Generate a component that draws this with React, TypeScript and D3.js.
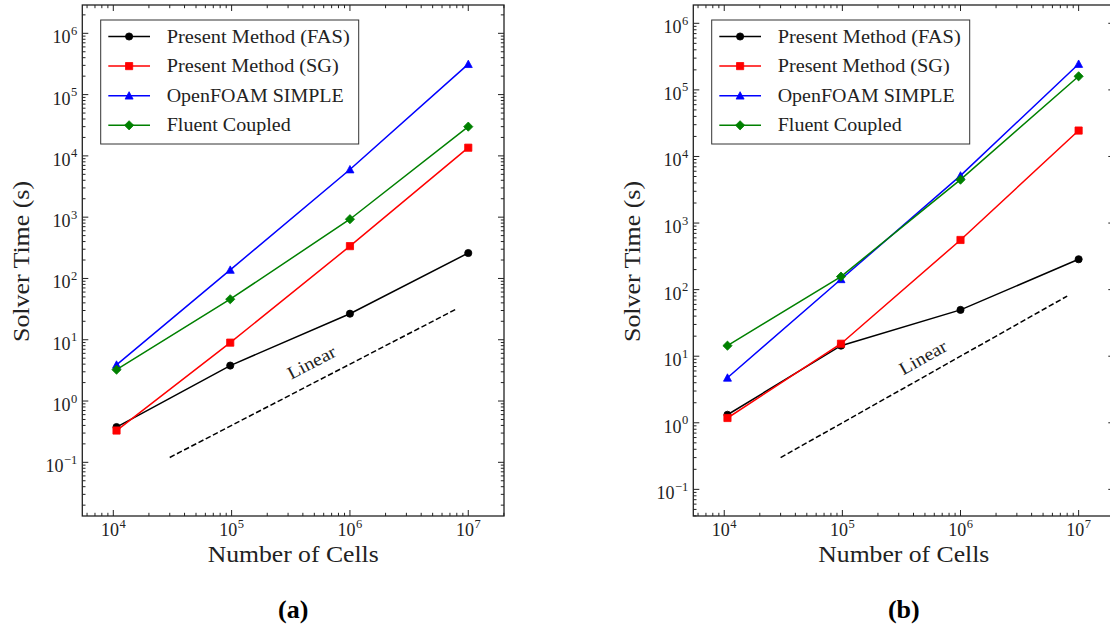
import React from 'react';
import * as d3 from 'd3';

// ---------- data ----------
const cells = [10648, 97336, 1000000, 10000000];
const legendLabels = ['Present Method (FAS)', 'Present Method (SG)', 'OpenFOAM SIMPLE', 'Fluent Coupled'];
const legendTextWidths = [183, 172, 177, 124];
const seriesColors = ['#000000', '#ff0000', '#0000ff', '#008000'];
const seriesMarkers = ['circle', 'square', 'triangle', 'diamond'];

const fasA = [0.376, 3.79, 26.6, 260];
const sgA = [0.33, 8.97, 337, 13600];
const openfoamA = [3.9, 138, 6000, 314000];
const fluentA = [3.25, 45.8, 926, 30000];

const fasB = [1.32, 14.4, 49.6, 286];
const sgB = [1.18, 15.4, 557, 24500];
const openfoamB = [4.74, 143, 5150, 245000];
const fluentB = [14.4, 157, 4480, 160000];

const linearX = [3e4, 8e6];
const linearCoefA = 4e-6;
const linearCoefB = 1e-5;
const linearLabelA = [5.0e5, 3.5];
const linearLabelB = [5.1e5, 8.0];

const xTickExps = [4, 5, 6, 7];
const yTickExps = [-1, 0, 1, 2, 3, 4, 5, 6];

const xLabel = 'Number of Cells';
const yLabel = 'Solver Time (s)';

// ---------- helpers ----------
const TXT = '#222';
const FONT = "'Liberation Serif', 'DejaVu Serif', serif";

function markerPath(kind: string): string {
  if (kind === 'circle') {
    const r = 3.6;
    return `M${-r},0A${r},${r} 0 1,0 ${r},0A${r},${r} 0 1,0 ${-r},0Z`;
  }
  if (kind === 'square') {
    const h = 3.6;
    return `M${-h},${-h}H${h}V${h}H${-h}Z`;
  }
  if (kind === 'triangle') {
    const h = 4;
    return `M0,${-h}L${h},${h * 0.85}L${-h},${h * 0.85}Z`;
  }
  const d = 4.6;
  return `M0,${-d}L${d},0L0,${d}L${-d},0Z`;
}

function minorValues(lo: number, hi: number): number[] {
  const out: number[] = [];
  for (let e = Math.floor(Math.log10(lo)) - 1; e <= Math.ceil(Math.log10(hi)); e++) {
    for (let k = 2; k <= 9; k++) {
      const v = k * Math.pow(10, e);
      if (v > lo && v < hi) out.push(v);
    }
  }
  return out;
}

function Pow10({ x, y, exp, anchor }: { x: number; y: number; exp: number; anchor: string }) {
  const e = exp < 0 ? '\u2212' + Math.abs(exp) : String(exp);
  return (
    <text x={x} y={y} textAnchor={anchor} fontFamily={FONT} fontSize={18} fill={TXT}>
      <tspan>10</tspan>
      <tspan dy={-8.5} fontSize={12.5} dx={0.5}>{e}</tspan>
    </text>
  );
}

type PanelProps = {
  left: number;
  right: number;
  top: number;
  bottom: number;
  yDomain: [number, number];
  series: number[][];
  linearCoef: number;
  labelPos: number[];
  caption: string;
};

function Panel({ left, right, top, bottom, yDomain, series, linearCoef, labelPos, caption }: PanelProps) {
  const x = d3.scaleLog().domain([Math.pow(10, 3.738), Math.pow(10, 7.302)]).range([left, right]);
  const y = d3.scaleLog().domain(yDomain).range([bottom, top]);
  const [xlo, xhi] = x.domain();
  const [ylo, yhi] = y.domain();
  const majLen = 6;
  const minLen = 3.2;

  const line = d3
    .line<number>()
    .x((_, i) => x(cells[i]))
    .y((d) => y(d));

  const linPts: [number, number][] = linearX.map((v) => [x(v), y(v * linearCoef)]);
  const angle = (Math.atan2(linPts[1][1] - linPts[0][1], linPts[1][0] - linPts[0][0]) * 180) / Math.PI;
  const lx = x(labelPos[0]);
  const ly = y(labelPos[1]);

  const legX = left + 18.4;
  const legY = 20;
  const cx = (left + right) / 2;

  return (
    <g>
      {/* ticks */}
      {xTickExps.map((e) => {
        const px = x(Math.pow(10, e));
        return (
          <g key={'xt' + e}>
            <line x1={px} x2={px} y1={bottom} y2={bottom - majLen} stroke={TXT} strokeWidth={1} />
            <line x1={px} x2={px} y1={top} y2={top + majLen} stroke={TXT} strokeWidth={1} />
            <Pow10 x={px} y={bottom + 20} exp={e} anchor="middle" />
          </g>
        );
      })}
      {minorValues(xlo, xhi).map((v, i) => {
        const px = x(v);
        return (
          <g key={'xm' + i}>
            <line x1={px} x2={px} y1={bottom} y2={bottom - minLen} stroke={TXT} strokeWidth={1} />
            <line x1={px} x2={px} y1={top} y2={top + minLen} stroke={TXT} strokeWidth={1} />
          </g>
        );
      })}
      {yTickExps.map((e) => {
        const py = y(Math.pow(10, e));
        return (
          <g key={'yt' + e}>
            <line x1={left} x2={left + majLen} y1={py} y2={py} stroke={TXT} strokeWidth={1} />
            <line x1={right} x2={right - majLen} y1={py} y2={py} stroke={TXT} strokeWidth={1} />
            <Pow10 x={left - 5} y={py + 10} exp={e} anchor="end" />
          </g>
        );
      })}
      {minorValues(ylo, yhi).map((v, i) => {
        const py = y(v);
        return (
          <g key={'ym' + i}>
            <line x1={left} x2={left + minLen} y1={py} y2={py} stroke={TXT} strokeWidth={1} />
            <line x1={right} x2={right - minLen} y1={py} y2={py} stroke={TXT} strokeWidth={1} />
          </g>
        );
      })}

      {/* frame */}
      <rect x={left} y={top} width={right - left} height={bottom - top} fill="none" stroke={TXT} strokeWidth={1.3} />

      {/* linear reference */}
      <line
        x1={linPts[0][0]}
        y1={linPts[0][1]}
        x2={linPts[1][0]}
        y2={linPts[1][1]}
        stroke="#000"
        strokeWidth={1.5}
        strokeDasharray="5.5 2.6"
      />
      <text
        x={lx}
        y={ly}
        transform={`rotate(${angle},${lx},${ly})`}
        textAnchor="middle"
        fontFamily={FONT}
        fontSize={18}
        fill={TXT}
        textLength={52}
        lengthAdjust="spacingAndGlyphs"
      >
        Linear
      </text>

      {/* series */}
      {series.map((vals, si) => (
        <g key={'s' + si}>
          <path d={line(vals) || ''} fill="none" stroke={seriesColors[si]} strokeWidth={1.5} />
          {vals.map((v, i) => (
            <path
              key={i}
              d={markerPath(seriesMarkers[si])}
              transform={`translate(${x(cells[i])},${y(v)})`}
              fill={seriesColors[si]}
              stroke={seriesColors[si]}
              strokeWidth={0.8}
            />
          ))}
        </g>
      ))}

      {/* legend */}
      <rect x={legX} y={legY} width={258} height={124} fill="#fff" stroke="#333" strokeWidth={1} />
      {legendLabels.map((lab, i) => {
        const ry = legY + 16.5 + i * 29.6;
        return (
          <g key={'lg' + i}>
            <line x1={legX + 7.6} x2={legX + 49.3} y1={ry} y2={ry} stroke={seriesColors[i]} strokeWidth={1.5} />
            <path
              d={markerPath(seriesMarkers[i])}
              transform={`translate(${legX + 28.4},${ry})`}
              fill={seriesColors[i]}
              stroke={seriesColors[i]}
              strokeWidth={0.8}
            />
            <text
              x={legX + 66}
              y={ry + 6}
              fontFamily={FONT}
              fontSize={18.5}
              fill={TXT}
              textLength={legendTextWidths[i]}
              lengthAdjust="spacingAndGlyphs"
            >
              {lab}
            </text>
          </g>
        );
      })}

      {/* axis labels */}
      <text
        x={cx}
        y={562}
        textAnchor="middle"
        fontFamily={FONT}
        fontSize={24}
        fill={TXT}
        textLength={171}
        lengthAdjust="spacingAndGlyphs"
      >
        {xLabel}
      </text>
      <text
        transform={`translate(${left - 61},${(top + bottom) / 2 + 1}) rotate(-90)`}
        textAnchor="middle"
        fontFamily={FONT}
        fontSize={24}
        fill={TXT}
        textLength={161}
        lengthAdjust="spacingAndGlyphs"
        dy={8}
      >
        {yLabel}
      </text>
      <text x={cx} y={618} textAnchor="middle" fontFamily={FONT} fontSize={26} fontWeight="bold" fill="#000">
        {caption}
      </text>
    </g>
  );
}

export default function App() {
  return (
    <svg
      width={1110}
      height={630}
      viewBox="0 0 1110 630"
      style={{ position: 'absolute', left: 0, top: 0, background: '#fff' }}
    >
      <rect x={0} y={0} width={1110} height={630} fill="#fff" />
      <Panel
        left={82.3}
        right={504}
        top={5}
        bottom={516}
        yDomain={[Math.pow(10, -1.876), Math.pow(10, 6.462)]}
        series={[fasA, sgA, openfoamA, fluentA]}
        linearCoef={linearCoefA}
        labelPos={linearLabelA}
        caption="(a)"
      />
      <Panel
        left={693.3}
        right={1114.3}
        top={5}
        bottom={516}
        yDomain={[Math.pow(10, -1.4), Math.pow(10, 6.275)]}
        series={[fasB, sgB, openfoamB, fluentB]}
        linearCoef={linearCoefB}
        labelPos={linearLabelB}
        caption="(b)"
      />
    </svg>
  );
}
